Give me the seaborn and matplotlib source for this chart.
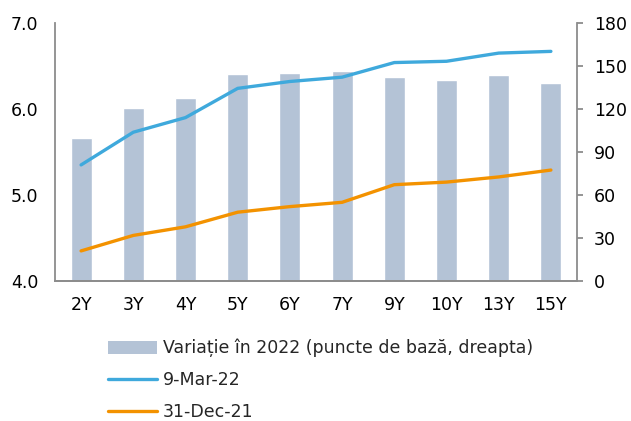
import numpy as np
import pandas as pd
import matplotlib
matplotlib.use("Agg")
import matplotlib.pyplot as plt
import seaborn as sns
from matplotlib.patches import Patch
from matplotlib.lines import Line2D

tenors = ["2Y", "3Y", "4Y", "5Y", "6Y", "7Y", "9Y", "10Y", "13Y", "15Y"]
variatie = [100, 121, 127.5, 144.5, 145, 146.5, 142, 140.5, 144, 138]
mar22 = [5.35, 5.73, 5.90, 6.24, 6.32, 6.37, 6.54, 6.555, 6.65, 6.67]
dec21 = [4.35, 4.53, 4.63, 4.80, 4.865, 4.915, 5.12, 5.15, 5.21, 5.29]

label_bar = "Variație în 2022 (puncte de bază, dreapta)"
label_mar = "9-Mar-22"
label_dec = "31-Dec-21"

bar_color = "#B4C3D6"
blue = "#3FA9DC"
orange = "#F39200"
spine_c = "#8C8C8C"

sns.set_style("white")
plt.rcParams["font.family"] = ["DejaVu Sans"]
fs = 12.5

df = pd.DataFrame({"tenor": tenors, "var": variatie, "mar": mar22, "dec": dec21})
df["pos"] = np.arange(len(df))

fig = plt.figure(figsize=(6.31, 4.21), dpi=100)
ax = fig.add_axes([55 / 631, 1 - 281 / 421, (577 - 55) / 631, (281 - 23) / 421])
ax2 = ax.twinx()

sns.barplot(data=df, x="tenor", y="var", ax=ax2, color=bar_color,
            saturation=1, width=0.4, order=tenors)
sns.lineplot(data=df, x="pos", y="mar", ax=ax, color=blue, linewidth=2.4, sort=False)
sns.lineplot(data=df, x="pos", y="dec", ax=ax, color=orange, linewidth=2.4, sort=False)

ax.set_zorder(ax2.get_zorder() + 1)
ax.patch.set_visible(False)

ax.set_xlim(-0.5, len(tenors) - 0.5)
ax.set_ylim(4.0, 7.0)
ax.set_yticks([4.0, 5.0, 6.0, 7.0])
ax.set_yticklabels([f"{v:.1f}" for v in [4.0, 5.0, 6.0, 7.0]])
ax2.set_ylim(0, 180)
ax2.set_yticks(np.arange(0, 181, 30))

ax.set_xticks(np.arange(len(tenors)))
ax.set_xticklabels(tenors)
for a in (ax, ax2):
    a.set_xlabel("")
    a.set_ylabel("")
    a.spines["top"].set_visible(False)
    for s in ("left", "right", "bottom"):
        a.spines[s].set_color(spine_c)
        a.spines[s].set_linewidth(1.3)
ax.spines["right"].set_visible(False)
ax2.spines["left"].set_visible(False)

ax.tick_params(axis="y", length=0, labelsize=fs, pad=12, colors="black")
ax.tick_params(axis="x", length=0, labelsize=fs, pad=11, colors="black")
ax2.tick_params(axis="y", length=4, width=1.3, color=spine_c, labelsize=fs, pad=8, labelcolor="black")
ax2.tick_params(axis="x", length=0, labelbottom=False)

handles = [Patch(facecolor=bar_color, edgecolor="none"),
           Line2D([], [], color=blue, linewidth=2.4),
           Line2D([], [], color=orange, linewidth=2.4)]
fig.legend(handles, [label_bar, label_mar, label_dec], loc="upper left",
           bbox_to_anchor=(101 / 631, 1 - 332 / 421), frameon=False, fontsize=fs,
           handlelength=2.8, handleheight=0.75, labelspacing=0.8, handletextpad=0.35,
           borderaxespad=0)

fig.savefig("out.png", dpi=100)
